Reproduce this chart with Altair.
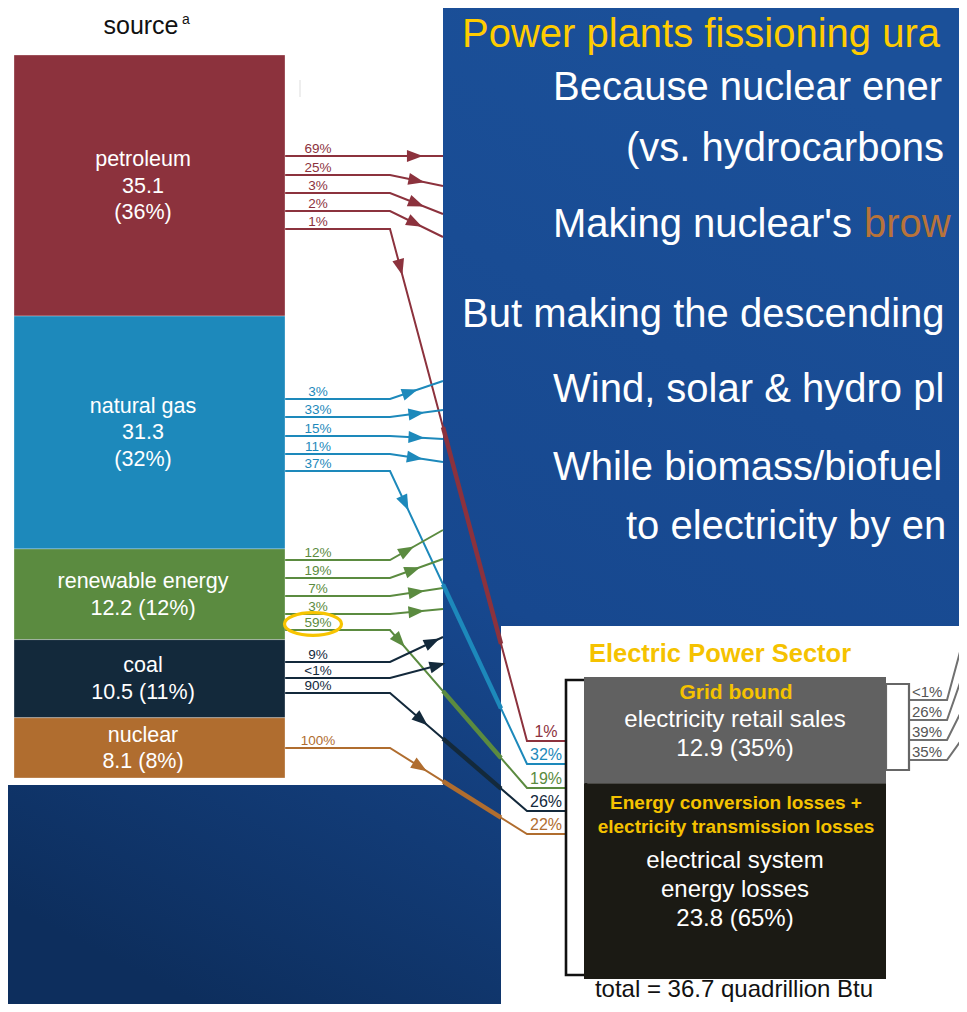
import altair as alt
import pandas as pd
import numpy as np

# ------------------------------------------------------------------ data
sources = ["petroleum", "natural gas", "renewable energy", "coal", "nuclear"]
source_values = [35.1, 31.3, 12.2, 10.5, 8.1]
source_shares = ["36%", "32%", "12%", "11%", "8%"]
source_colors = ["#8c323d", "#1d89bb", "#5b8b40", "#13293b", "#b06d2f"]

petroleum_flows = ["69%", "25%", "3%", "2%", "1%"]
gas_flows = ["3%", "33%", "15%", "11%", "37%"]
renewable_flows = ["12%", "19%", "7%", "3%", "59%"]
coal_flows = ["9%", "<1%", "90%"]
nuclear_flows = ["100%"]

eps_inputs = ["1%", "32%", "19%", "26%", "22%"]
eps_parts = ["Grid bound", "Energy conversion losses +"]
eps_values = [12.9, 23.8]
eps_shares = ["35%", "65%"]
eps_total = 36.7
retail_outputs = ["<1%", "26%", "39%", "35%"]

slide_lines = [
    "Power plants fissioning ura",
    "Because nuclear ener",
    "(vs. hydrocarbons",
    "Making nuclear's",
    "brow",
    "But making the descending",
    "Wind, solar & hydro pl",
    "While biomass/biofuel",
    "to electricity by en",
]

# ------------------------------------------------------------------ layout
FONT = "Liberation Sans"
X0, X1, Y0, Y1 = 8, 959, 8, 1004


def X(f):
    return alt.X(f"{f}:Q", scale=alt.Scale(domain=[X0, X1], nice=False, zero=False), axis=None)


def Y(f):
    return alt.Y(f"{f}:Q", scale=alt.Scale(domain=[Y0, Y1], nice=False, zero=False, reverse=True), axis=None)


COLOR = alt.Color("color:N", scale=None)

# background
bg = pd.DataFrame({"x": [X0], "x2": [X1], "y": [Y0], "y2": [Y1]})
bg_layer = alt.Chart(bg).mark_rect(
    clip=True,
    color=alt.Gradient(
        gradient="linear",
        stops=[alt.GradientStop(color="#1b5099", offset=0),
               alt.GradientStop(color="#17488f", offset=0.55),
               alt.GradientStop(color="#0d2e5d", offset=1)],
        x1=0.7, x2=0.2, y1=0, y2=1,
    ),
).encode(x=X("x"), x2=alt.X2("x2"), y=Y("y"), y2=alt.Y2("y2"))

# white panels
panels = pd.DataFrame({
    "x": [8, 501], "x2": [443, 975], "y": [8, 626], "y2": [785, 1020],
    "color": ["#ffffff", "#ffffff"],
})
panel_layer = alt.Chart(panels).mark_rect(clip=True).encode(
    x=X("x"), x2=alt.X2("x2"), y=Y("y"), y2=alt.Y2("y2"), color=COLOR)

tick = pd.DataFrame({"x": [300], "y": [80], "y2": [97]})
tick_layer = alt.Chart(tick).mark_rule(color="#dddddd", strokeWidth=1).encode(
    x=X("x"), y=Y("y"), y2=alt.Y2("y2"))

# source stacked bar (from values)
BAR_X, BAR_X2, BAR_TOP, BAR_BOT = 14, 285, 55, 778
cum = np.concatenate([[0], np.cumsum(source_values)])
scale_px = (BAR_BOT - BAR_TOP) / cum[-1]
bars = pd.DataFrame({
    "source": sources,
    "x": BAR_X, "x2": BAR_X2,
    "y": BAR_TOP + cum[:-1] * scale_px,
    "y2": BAR_TOP + cum[1:] * scale_px,
    "color": source_colors,
})
bar_layer = alt.Chart(bars).mark_rect(stroke="#ffffff", strokeWidth=0.6, strokeOpacity=0.5).encode(
    x=X("x"), x2=alt.X2("x2"), y=Y("y"), y2=alt.Y2("y2"), color=COLOR)

# flows: (start y, end x, end y, arrow t)
flow_geom = {
    "petroleum": [(156, 443, 156, .47), (175, 443, 186, .5), (193, 443, 214, .5),
                  (211, 443, 237, .47), (229, 527, 741, .075)],
    "natural gas": [(399, 443, 381, .38), (417, 443, 410, .5), (436, 443, 439, .5),
                    (454, 443, 462, .47), (471, 527, 764, .11)],
    "renewable energy": [(560, 443, 530, .32), (578, 443, 559, .43), (596, 443, 588, .5),
                         (614, 443, 609, .5), (630, 527, 788, .07)],
    "coal": [(662, 443, 637, .8), (678, 443, 664, .9), (693, 527, 811, .23)],
    "nuclear": [(748, 527, 834, .22)],
}
flow_labels = {
    "petroleum": petroleum_flows, "natural gas": gas_flows,
    "renewable energy": renewable_flows, "coal": coal_flows, "nuclear": nuclear_flows,
}
BEND = 390
line_rows, thick_rows, arrow_rows, texts = [], [], [], []
eps_label_rows = []
for si, s in enumerate(sources):
    col = source_colors[si]
    for fi, (ys, xe, ye, t) in enumerate(flow_geom[s]):
        fid = f"{s}-{fi}"
        pts = [(BAR_X2, ys), (BEND, ys), (xe, ye)]
        if xe > 443:
            pts.append((565, ye))

            def at(xx, ys=ys, ye=ye, xe=xe):
                return ys + (ye - ys) * (xx - BEND) / (xe - BEND)
            thick_rows += [
                {"id": fid, "seq": 0, "x": 443, "y": at(443), "color": col},
                {"id": fid, "seq": 1, "x": 501, "y": at(501), "color": col},
            ]
            eps_label_rows.append({"x": 546, "y": ye - 4, "text": eps_inputs[si],
                                   "color": col, "size": 16})
        for k, (px, py) in enumerate(pts):
            line_rows.append({"id": fid, "seq": k, "x": px, "y": py, "color": col})
        ax = BEND + t * (xe - BEND)
        ay = ys + t * (ye - ys)
        ang = (np.degrees(np.arctan2(xe - BEND, -(ye - ys))) + 360) % 360
        arrow_rows.append({"x": ax, "y": ay, "angle": ang, "color": col})
        texts.append({"x": 318, "y": ys - 3, "text": flow_labels[s][fi], "color": col,
                      "size": 13.5})

lines_df = pd.DataFrame(line_rows)
thick_df = pd.DataFrame(thick_rows)
arrows_df = pd.DataFrame(arrow_rows)

line_layer = alt.Chart(lines_df).mark_line(strokeWidth=2, clip=True, strokeJoin="miter").encode(
    x=X("x"), y=Y("y"), color=COLOR, detail="id:N", order="seq:Q")
thick_layer = alt.Chart(thick_df).mark_line(strokeWidth=4.5, clip=True).encode(
    x=X("x"), y=Y("y"), color=COLOR, detail="id:N", order="seq:Q")
arrow_layer = alt.Chart(arrows_df).mark_point(
    shape="M0,-1L0.75,1L-0.75,1Z", filled=True, opacity=1, size=256, strokeWidth=0,
).encode(x=X("x"), y=Y("y"), color=COLOR, angle=alt.Angle("angle:Q", scale=None))

# highlight ellipse around 59%
ell = pd.DataFrame({"x": [313], "y": [624]})
ell_layer = alt.Chart(ell).mark_point(
    shape="M-1,0A1,0.4,0,1,0,1,0A1,0.4,0,1,0,-1,0Z", filled=False, color="#f7c400",
    strokeWidth=3.2, size=57 * 57, opacity=1,
).encode(x=X("x"), y=Y("y"))

# source labels inside bars
bar_texts = []
for i, r in bars.iterrows():
    mid = (r["y"] + r["y2"]) / 2
    val = f"{source_values[i]}"
    if i < 2:
        lines = [sources[i], val, f"({source_shares[i]})"]
    else:
        lines = [sources[i], f"{val} ({source_shares[i]})"]
    n = len(lines)
    for j, tx in enumerate(lines):
        bar_texts.append({"x": 143, "y": mid + 7 + (j - (n - 1) / 2) * 26.5,
                          "text": tx, "color": "#ffffff", "size": 21.5})

# EPS boxes (split by values)
EPS_X, EPS_X2, EPS_TOP, EPS_BOT = 584, 886, 677, 979
split = EPS_TOP + (EPS_BOT - EPS_TOP) * eps_values[0] / eps_total
eps_boxes = pd.DataFrame({
    "x": [EPS_X, EPS_X], "x2": [EPS_X2, EPS_X2],
    "y": [EPS_TOP, split], "y2": [split, EPS_BOT],
    "color": ["#616161", "#1b1a14"],
})
eps_layer = alt.Chart(eps_boxes).mark_rect().encode(
    x=X("x"), x2=alt.X2("x2"), y=Y("y"), y2=alt.Y2("y2"), color=COLOR)

brackets = pd.DataFrame({
    "x": [566, 886], "x2": [586, 909], "y": [680, 684], "y2": [975, 770],
    "color": ["#111111", "#666666"], "sw": [2.6, 2.2],
})
bracket_layer = alt.Chart(brackets).mark_rect(filled=False, fillOpacity=0).encode(
    x=X("x"), x2=alt.X2("x2"), y=Y("y"), y2=alt.Y2("y2"),
    stroke=alt.Stroke("color:N", scale=None), strokeWidth=alt.StrokeWidth("sw:Q", scale=None))

# retail output lines
out_rows, out_texts = [], []
out_y = [700, 720, 740, 760]
out_top = [626, 663, 700, 732]
for i, lab in enumerate(retail_outputs):
    for k, (px, py) in enumerate([(909, out_y[i]), (947, out_y[i]), (967, out_top[i])]):
        out_rows.append({"id": i, "seq": k, "x": px, "y": py})
    out_texts.append({"x": 912, "y": out_y[i] - 3, "text": lab, "color": "#555555", "size": 15})
out_layer = alt.Chart(pd.DataFrame(out_rows)).mark_line(
    strokeWidth=2, color="#707070", clip=True).encode(
    x=X("x"), y=Y("y"), detail="id:N", order="seq:Q")

# ------------------------------------------------------------------ text
center_texts = pd.DataFrame(texts + bar_texts + eps_label_rows + [
    {"x": 141, "y": 34, "text": "source", "color": "#111111", "size": 25},
    {"x": 735, "y": 727, "text": "electricity retail sales", "color": "#ffffff", "size": 24},
    {"x": 735, "y": 756, "text": f"{eps_values[0]} ({eps_shares[0]})", "color": "#ffffff", "size": 24},
    {"x": 735, "y": 868, "text": "electrical system", "color": "#ffffff", "size": 24},
    {"x": 735, "y": 897, "text": "energy losses", "color": "#ffffff", "size": 24},
    {"x": 735, "y": 926, "text": f"{eps_values[1]} ({eps_shares[1]})", "color": "#ffffff", "size": 24},
    {"x": 734, "y": 997, "text": f"total = {eps_total} quadrillion Btu", "color": "#111111", "size": 24},
])
left_texts = pd.DataFrame(out_texts + [
    {"x": 182, "y": 24, "text": "a", "color": "#111111", "size": 14},
])
bold_texts = pd.DataFrame([
    {"x": 720, "y": 662, "text": "Electric Power Sector", "color": "#f5c200", "size": 25.5},
    {"x": 736, "y": 699, "text": eps_parts[0], "color": "#f5c200", "size": 21},
    {"x": 736, "y": 809, "text": eps_parts[1], "color": "#f5c200", "size": 19},
    {"x": 736, "y": 833, "text": "electricity transmission losses", "color": "#f5c200", "size": 19},
])
sx = [462, 553, 626, 553, 864, 462, 553, 553, 626]
sy = [47, 100, 161, 237, 237, 327, 402, 480, 539]
scol = ["#ffcc00"] + ["#ffffff"] * 3 + ["#b8733a"] + ["#ffffff"] * 4
slide_df = pd.DataFrame({"x": sx, "y": sy, "text": slide_lines, "color": scol, "size": 40})


def text_layer(df, align, weight="normal"):
    return alt.Chart(df).mark_text(
        align=align, baseline="alphabetic", font=FONT, fontWeight=weight, clip=True,
    ).encode(x=X("x"), y=Y("y"), text="text:N", color=COLOR,
             size=alt.Size("size:Q", scale=None))


chart = alt.layer(
    bg_layer,
    panel_layer,
    tick_layer,
    line_layer,
    thick_layer,
    arrow_layer,
    out_layer,
    bar_layer,
    ell_layer,
    bracket_layer,
    eps_layer,
    text_layer(slide_df, "left"),
    text_layer(center_texts, "center"),
    text_layer(left_texts, "left"),
    text_layer(bold_texts, "center", weight="bold"),
).properties(
    width=951, height=996,
    autosize=alt.AutoSizeParams(type="fit", contains="padding"),
    padding=0,
    background="#17488f",
).configure_view(stroke=None)

chart.save("out.html", embed_options={"renderer": "svg", "actions": False})
